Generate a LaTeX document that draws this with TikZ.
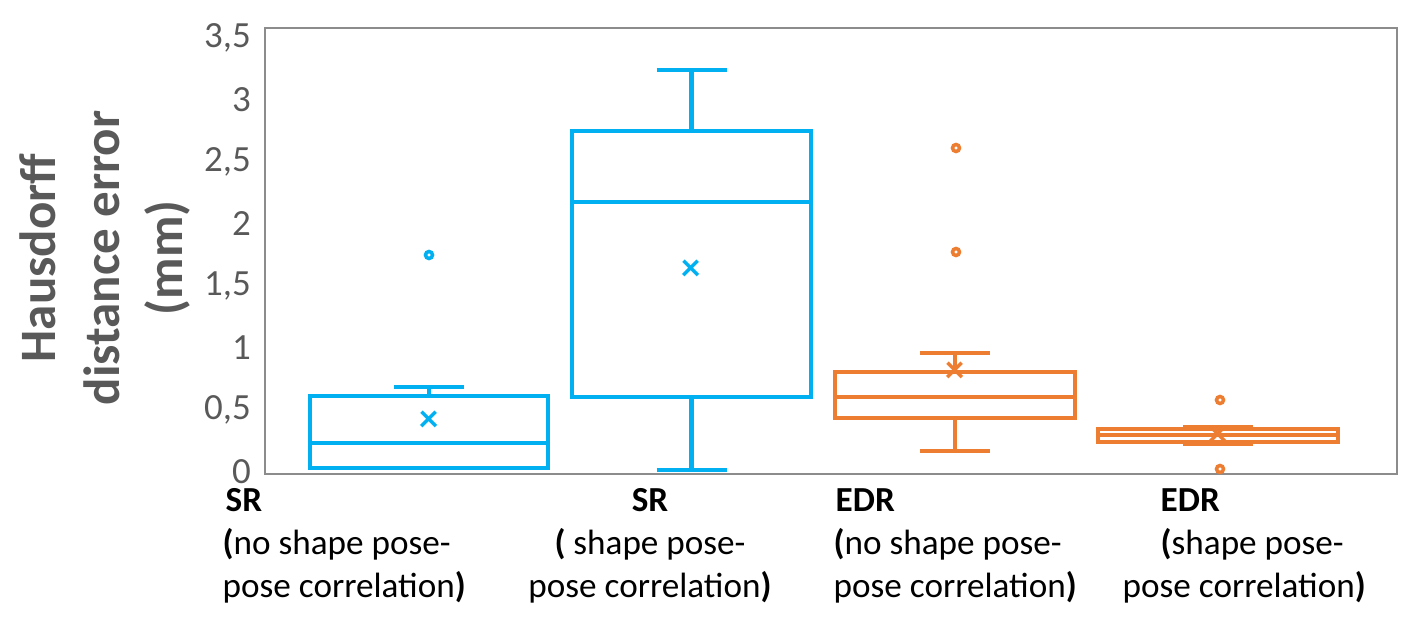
\documentclass[tikz,border=0pt]{standalone}
\usepackage{fontspec}
\setmainfont{Carlito}
\definecolor{srblue}{HTML}{00B0F0}
\definecolor{edrorange}{HTML}{ED7D31}
\definecolor{axisgray}{HTML}{595959}
\tikzset{
  tick/.style={anchor=east, inner sep=1pt, text=axisgray, font=\fontsize{10.5pt}{12pt}\selectfont},
  catlabel/.style={font=\fontsize{10pt}{12.2pt}\selectfont, inner sep=0pt},
  boxline/.style={line width=1.3pt},
  outlier/.style={line width=1pt, fill=white}
}
\newcommand{\boxplot}[9]{%
  % #1 colour, #2 left, #3 right, #4 whisker low, #5 Q1, #6 median, #7 Q3, #8 whisker high, #9 mean
  \draw[#1, boxline] (#2,#5) rectangle (#3,#7);
  \draw[#1, boxline] (#2,#6) -- (#3,#6);
  \pgfmathsetmacro{\mid}{(#2+#3)/2}
  \draw[#1, boxline] (\mid,#7) -- (\mid,#8) (\mid-35,#8) -- (\mid+35,#8);
  \draw[#1, boxline] (\mid,#5) -- (\mid,#4) (\mid-35,#4) -- (\mid+35,#4);
  \node[#1, font=\bfseries\fontsize{11pt}{11pt}\selectfont] at (\mid,#9) {×};
}
\begin{document}
\begin{tikzpicture}[x=0.01cm, y=-0.01cm]
    \useasboundingbox (0,0) rectangle (1410,631);

    % cadre
    \draw[black!45, line width=0.6pt] (265,28) rectangle (1397,474);

    % graduations
    \foreach \v/\t in {0/0, 0.5/{0,5}, 1/1, 1.5/{1,5}, 2/2, 2.5/{2,5}, 3/3, 3.5/{3,5}}
      \node[tick] at (255,{472-124*\v}) {\t};

    % titre
    \node[rotate=90, text=axisgray, align=center, font=\bfseries\fontsize{14.5pt}{18pt}\selectfont] (title) at (105,258) {Hausdorff\\distance error\\(mm)};

    % boites
    \boxplot{srblue}{310}{548}{468}{468}{443}{396}{387}{421}
    \boxplot{srblue}{572}{811}{470}{397}{202}{131}{70}{270}
    \boxplot{edrorange}{835}{1075}{451}{418}{397}{372}{353}{372}
    \boxplot{edrorange}{1098}{1338}{444}{442}{435}{429}{427}{436}

    % points isoles
    \draw[srblue, outlier] (429,255) circle (3.5);
    \draw[edrorange, outlier] (956,148) circle (3.5);
    \draw[edrorange, outlier] (956,252) circle (3.5);
    \draw[edrorange, outlier] (1220,400) circle (3.5);
    \draw[edrorange, outlier] (1220,469) circle (3.5);

    % etiquetes
    \node[catlabel, align=left, anchor=north west] (sr1) at (222,488) {\hspace*{0.03cm}\textbf{SR}\\\textbf{(}no shape pose-\\pose correlation\textbf{)}};
    \node[catlabel, align=center, anchor=north] (sr2) at (650,488) {\textbf{SR}\\\textbf{(} shape pose-\\pose correlation\textbf{)}};
    \node[catlabel, align=left, anchor=north west] (edr1) at (833,488) {\hspace*{0.02cm}\textbf{EDR}\\\textbf{(}no shape pose-\\pose correlation\textbf{)}};
    \node[catlabel, align=left, anchor=north west] (edr2) at (1122,488) {\hspace*{0.38cm}\textbf{EDR}\\\hspace*{0.38cm}\textbf{(}shape pose-\\pose correlation\textbf{)}};
\end{tikzpicture}
\end{document}
